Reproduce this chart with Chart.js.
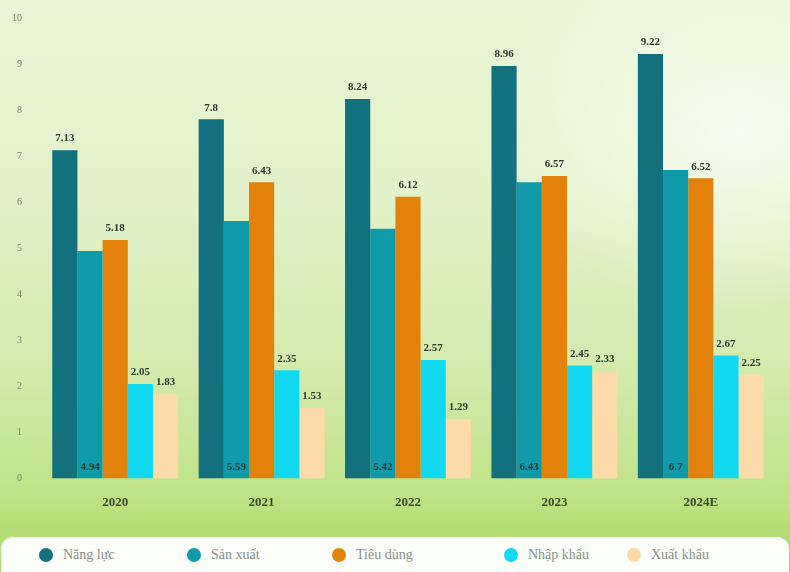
<!DOCTYPE html>
<html>
<head>
<meta charset="utf-8">
<script src="https://cdn.jsdelivr.net/npm/chart.js@4/dist/chart.umd.min.js"></script>
<style>
    html, body { margin: 0; padding: 0; }
    body {
        width: 790px;
        height: 572px;
        overflow: hidden;
        font-family: 'Liberation Serif', 'DejaVu Serif', serif;
        background:
            radial-gradient(ellipse 380px 260px at 740px 130px, rgba(255,255,255,0.7), rgba(255,255,255,0) 70%),
            linear-gradient(180deg, #e9f5d6 0%, #e2f1c9 35%, #d3eaad 65%, #c0e389 85%, #b1dd6f 95%, #acda68 100%);
    }
    #wrap { position: relative; width: 790px; height: 572px; }
    #capacity { position: absolute; left: 0; top: 0; }
    #legend {
        position: absolute;
        left: 1px;
        top: 537px;
        width: 788px;
        height: 50px;
        background: rgba(255,255,255,0.96);
        border-radius: 12px;
    }
    .item {
        position: absolute;
        top: 10px;
        display: flex;
        align-items: center;
        color: #8a918a;
        font-size: 14px;
    }
    .dot {
        width: 14px;
        height: 14px;
        border-radius: 50%;
        margin-right: 10px;
    }
</style>
</head>
<body>
<div id="wrap">
    <canvas id="capacity" width="790" height="535"></canvas>
    <div id="legend"></div>
</div>
<script>
const years = ["2020", "2021", "2022", "2023", "2024E"];
const seriesNames = ["Năng lực", "Sản xuất", "Tiêu dùng", "Nhập khẩu", "Xuất khẩu"];
const nangLuc = [7.13, 7.8, 8.24, 8.96, 9.22];
const sanXuat = [4.94, 5.59, 5.42, 6.43, 6.7];
const tieuDung = [5.18, 6.43, 6.12, 6.57, 6.52];
const nhapKhau = [2.05, 2.35, 2.57, 2.45, 2.67];
const xuatKhau = [1.83, 1.53, 1.29, 2.33, 2.25];
const yTicks = [0, 1, 2, 3, 4, 5, 6, 7, 8, 9, 10];

const colors = ["#12717d", "#0f9aa9", "#e3820b", "#12d9ef", "#fcdaa9"];
const legendLeft = [38, 186, 331, 503, 626];

const serif = "'Liberation Serif', 'DejaVu Serif', serif";

// value labels: above each bar, except Sản xuất which sits at the base
const valueLabels = {
    id: "valueLabels",
    afterDatasetsDraw(chart) {
        const ctx = chart.ctx;
        ctx.save();
        ctx.font = "bold 11px " + serif;
        ctx.fillStyle = "#2d3a30";
        ctx.textAlign = "center";
        ctx.textBaseline = "bottom";
        chart.data.datasets.forEach((ds, i) => {
            const meta = chart.getDatasetMeta(i);
            meta.data.forEach((bar, j) => {
                const v = ds.data[j];
                if (ds.labelAtBase) {
                    ctx.fillText(String(v), bar.x, bar.base - 6);
                } else {
                    ctx.fillText(String(v), bar.x, bar.y - 6);
                }
            });
        });
        ctx.restore();
    }
};

const chart = new Chart(document.getElementById("capacity"), {
    type: "bar",
    data: {
        labels: years,
        datasets: [
            { label: seriesNames[0], data: nangLuc, backgroundColor: colors[0] },
            { label: seriesNames[1], data: sanXuat, backgroundColor: colors[1], labelAtBase: true },
            { label: seriesNames[2], data: tieuDung, backgroundColor: colors[2] },
            { label: seriesNames[3], data: nhapKhau, backgroundColor: colors[3] },
            { label: seriesNames[4], data: xuatKhau, backgroundColor: colors[4] }
        ]
    },
    options: {
        responsive: false,
        animation: false,
        layout: { padding: { top: 0, right: 16, left: 0, bottom: 17 } },
        datasets: {
            bar: { barPercentage: 1, categoryPercentage: 0.86 }
        },
        scales: {
            x: {
                grid: { display: false },
                border: { display: false },
                ticks: {
                    color: "#3d4a35",
                    font: { family: serif, size: 13, weight: "bold" },
                    padding: 8
                }
            },
            y: {
                min: 0,
                max: 10,
                afterBuildTicks(axis) {
                    axis.ticks = yTicks.map(v => ({ value: v }));
                },
                grid: { display: false },
                border: { display: false },
                ticks: {
                    color: "#7b8476",
                    font: { family: serif, size: 10 },
                    padding: 12
                }
            }
        },
        plugins: {
            tooltip: { enabled: false },
            legend: { display: false }
        }
    },
    plugins: [valueLabels]
});

// legend strip under the chart
const legend = document.getElementById("legend");
seriesNames.forEach((name, i) => {
    const item = document.createElement("div");
    item.className = "item";
    item.style.left = legendLeft[i] + "px";
    const dot = document.createElement("span");
    dot.className = "dot";
    dot.style.background = colors[i];
    item.appendChild(dot);
    item.appendChild(document.createTextNode(name));
    legend.appendChild(item);
});
</script>
</body>
</html>
